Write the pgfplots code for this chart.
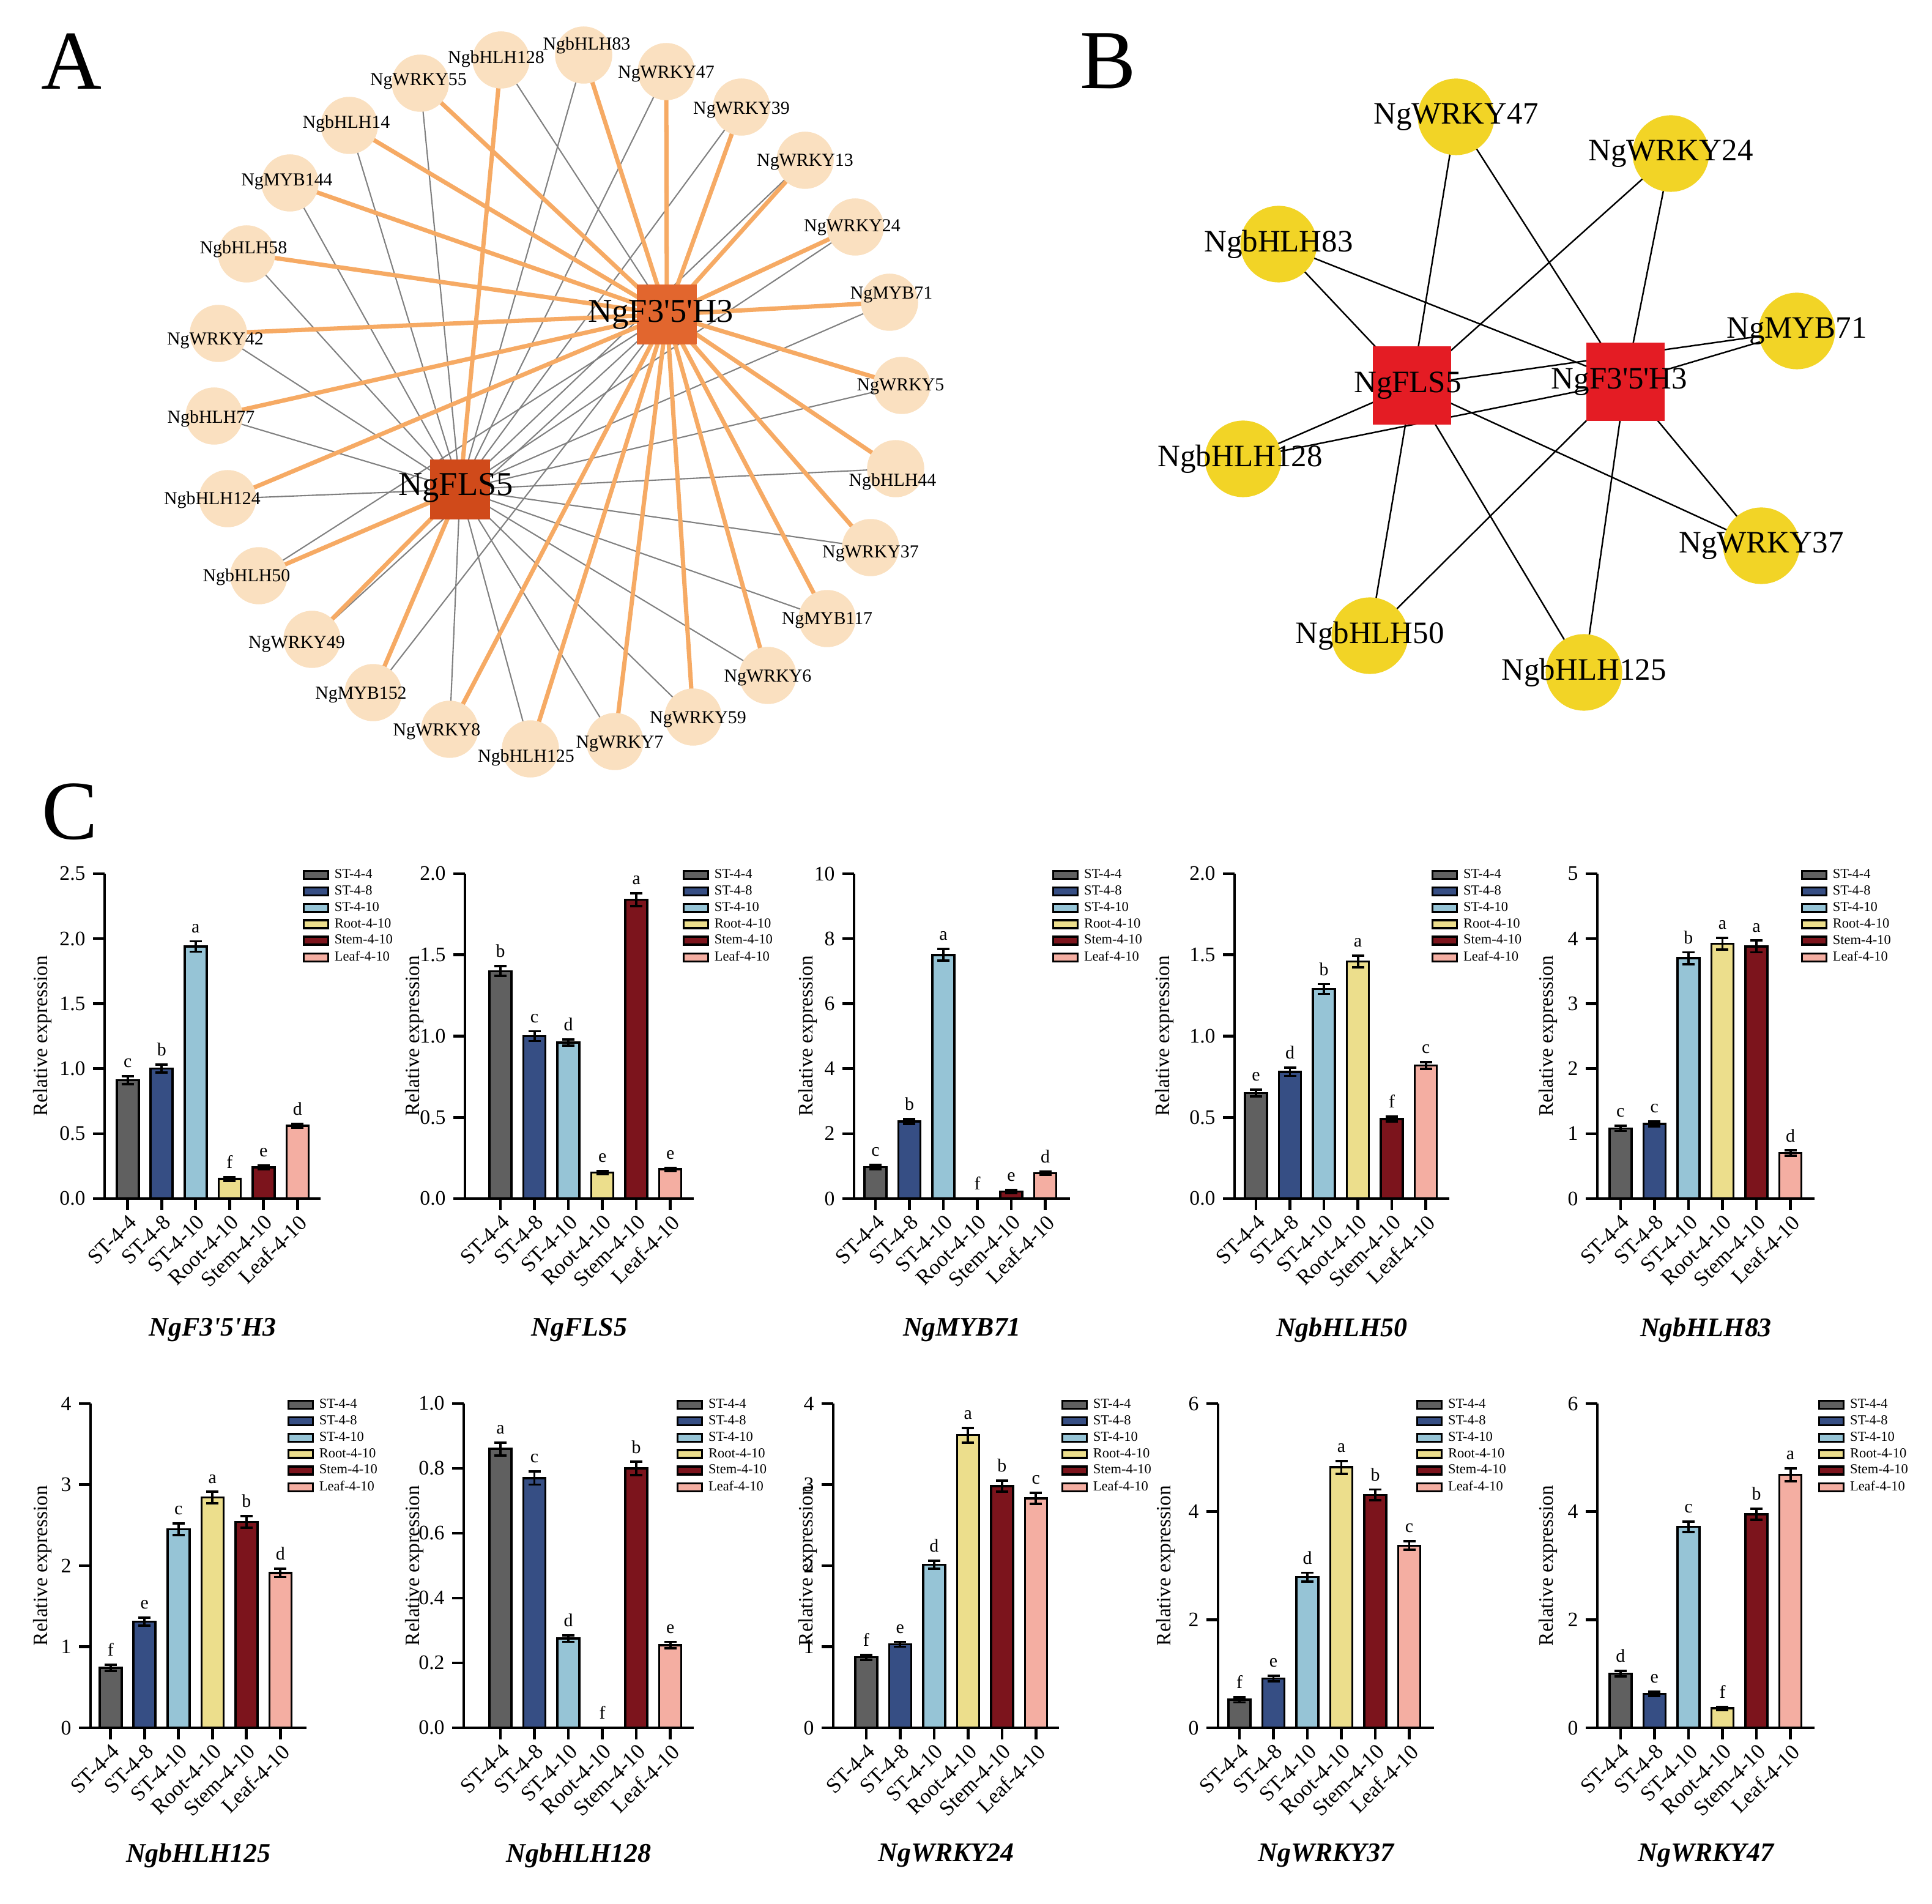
\documentclass[border=0pt]{standalone}
\usepackage{fontspec}
\setmainfont{Liberation Serif}
\usepackage{pgfplots}
\usepackage{pgfplotstable}
\pgfplotsset{compat=1.18}

\definecolor{cST4}{RGB}{96,96,96}
\definecolor{cST8}{RGB}{54,78,132}
\definecolor{cST10}{RGB}{150,196,214}
\definecolor{cRoot}{RGB}{236,222,140}
\definecolor{cStem}{RGB}{124,20,28}
\definecolor{cLeaf}{RGB}{244,174,162}
\definecolor{peach}{RGB}{250,224,192}
\definecolor{orline}{RGB}{246,170,100}
\definecolor{hubF}{RGB}{226,102,46}
\definecolor{hubL}{RGB}{208,74,26}
\definecolor{goldn}{RGB}{242,212,38}
\definecolor{redsq}{RGB}{228,28,36}

\newcommand{\Fh}{NgF3\textquotesingle{}5\textquotesingle{}H3}

% x = bar index, y = relative expression, e = error, l = letter
\pgfplotstableread{
x y e l
0 0.91 0.03 c
1 1.00 0.03 b
2 1.94 0.04 a
3 0.15 0.015 f
4 0.24 0.015 e
5 0.56 0.015 d
}\tA
\pgfplotstableread{
x y e l
0 1.40 0.03 b
1 1.00 0.03 c
2 0.96 0.02 d
3 0.16 0.01 e
4 1.84 0.04 a
5 0.18 0.01 e
}\tB
\pgfplotstableread{
x y e l
0 0.97 0.06 c
1 2.37 0.08 b
2 7.50 0.18 a
3 0 0 f
4 0.22 0.05 e
5 0.78 0.05 d
}\tC
\pgfplotstableread{
x y e l
0 0.65 0.02 e
1 0.78 0.025 d
2 1.29 0.03 b
3 1.46 0.035 a
4 0.49 0.015 f
5 0.82 0.02 c
}\tD
\pgfplotstableread{
x y e l
0 1.08 0.04 c
1 1.15 0.04 c
2 3.70 0.09 b
3 3.92 0.09 a
4 3.88 0.09 a
5 0.70 0.04 d
}\tE
\pgfplotstableread{
x y e l
0 0.74 0.04 f
1 1.31 0.05 e
2 2.45 0.07 c
3 2.84 0.07 a
4 2.54 0.07 b
5 1.91 0.05 d
}\tF
\pgfplotstableread{
x y e l
0 0.86 0.02 a
1 0.77 0.02 c
2 0.275 0.01 d
3 0 0 f
4 0.80 0.02 b
5 0.255 0.01 e
}\tG
\pgfplotstableread{
x y e l
0 0.87 0.03 f
1 1.03 0.03 e
2 2.01 0.05 d
3 3.61 0.09 a
4 2.98 0.07 b
5 2.83 0.07 c
}\tH
\pgfplotstableread{
x y e l
0 0.52 0.05 f
1 0.91 0.05 e
2 2.79 0.08 d
3 4.82 0.12 a
4 4.31 0.10 b
5 3.37 0.08 c
}\tI
\pgfplotstableread{
x y e l
0 1.00 0.05 d
1 0.63 0.04 e
2 3.72 0.10 c
3 0.36 0.03 f
4 3.95 0.10 b
5 4.68 0.12 a
}\tJ

\pgfplotsset{
  barax/.style={
    scale only axis, anchor=south west, height=5.31cm,
    ymin=0, clip=false,
    axis x line*=bottom, axis y line*=left,
    axis line style={line width=1.4pt, black},
    tick align=outside, major tick length=0.19cm,
    tick style={line width=1.3pt, black},
    xtick={0,1,2,3,4,5},
    xticklabels={ST-4-4,ST-4-8,ST-4-10,Root-4-10,Stem-4-10,Leaf-4-10},
    xticklabel style={rotate=45, anchor=north east, font=\fontsize{10}{12}\selectfont, inner sep=1pt},
    yticklabel style={font=\fontsize{9.6}{11}\selectfont},
    /pgf/number format/assume math mode=true,
    ylabel={Relative expression},
    every axis y label/.style={at={(axis description cs:0,0.5)}, rotate=90, anchor=center, font=\fontsize{9.5}{11}\selectfont},
    every axis x label/.style={at={(axis description cs:0.5,0)}, anchor=center, font=\fontsize{12.5}{15}\selectfont\bfseries\itshape},
    legend cell align=left,
    legend style={anchor=north west, yshift=0.1cm, draw=none, fill=none, inner sep=0pt,
      font=\fontsize{6.4}{7}\selectfont, row sep=0.9pt, nodes={inner sep=0.5pt},
      /tikz/every odd column/.style={column sep=0.07cm}},
    legend image code/.code={\draw[#1,/tikz/.cd,draw=black,line width=1pt] (0cm,-0.06cm) rectangle (0.4cm,0.07cm);},
    point meta=explicit symbolic,
    nodes near coords,
    visualization depends on={\thisrow{e} \as \errv},
    every node near coord/.append style={font=\fontsize{8.5}{10}\selectfont, anchor=south, inner sep=1pt,
      shift={(axis direction cs:0,\errv)}, yshift=2.5pt},
  },
  onedec/.style={yticklabel style={/pgf/number format/.cd, fixed, fixed zerofill, precision=1}},
  barplot/.style={ybar, bar width=0.36cm, bar shift=0pt, draw=black, line width=1pt, fill=#1,
    error bars/.cd, y dir=both, y explicit,
    error bar style={line width=1.1pt, black},
    error mark options={rotate=90, mark size=0.1cm, line width=1.1pt, black}},
}

\newcommand{\sixbars}[1]{%
  \addplot[restrict expr to domain={\coordindex}{0:0}, barplot=cST4] table[x=x,y=y,y error=e,meta=l]{#1};
  \addplot[restrict expr to domain={\coordindex}{1:1}, barplot=cST8] table[x=x,y=y,y error=e,meta=l]{#1};
  \addplot[restrict expr to domain={\coordindex}{2:2}, barplot=cST10] table[x=x,y=y,y error=e,meta=l]{#1};
  \addplot[restrict expr to domain={\coordindex}{3:3}, barplot=cRoot] table[x=x,y=y,y error=e,meta=l]{#1};
  \addplot[restrict expr to domain={\coordindex}{4:4}, barplot=cStem] table[x=x,y=y,y error=e,meta=l]{#1};
  \addplot[restrict expr to domain={\coordindex}{5:5}, barplot=cLeaf] table[x=x,y=y,y error=e,meta=l]{#1};
  \legend{ST-4-4,ST-4-8,ST-4-10,Root-4-10,Stem-4-10,Leaf-4-10}
}

\begin{document}
\begin{tikzpicture}
\path[use as bounding box] (0,0) rectangle (31.58,31.11);

% networks A and B, in pixel units of the figure
\begin{axis}[at={(0cm,0cm)}, anchor=south west, scale only axis,
  width=31.58cm, height=31.11cm, xmin=0, xmax=3158, ymin=0, ymax=3111,
  y dir=reverse, hide axis, clip=false]

% A: thin gray edges
\addplot[mark=none, color=gray, line width=0.6pt, line join=round] coordinates {
(752,800)(954,90)(752,800)(1089,117)(752,800)(1212,175)(752,800)(1316,262)(752,800)(1398,371)
(752,800)(1454,494)(752,800)(1474,630)(752,800)(1464,766)(752,800)(1423,895)(752,800)(1352,1011)
(752,800)(1255,1104)(752,800)(1133,1172)(752,800)(1005,1212)(752,800)(867,1224)(752,800)(735,1192)
(752,800)(372,815)(752,800)(350,680)(752,800)(357,545)(752,800)(403,415)(752,800)(474,299)
(752,800)(571,205)(752,800)(687,136)(752,800)};
\addplot[mark=none, color=gray, line width=0.6pt, line join=round] coordinates {
(1090,514)(819,98)(1090,514)(610,1132)(1090,514)(510,1045)(1090,514)(423,941)(1090,514)};
% A: thick orange edges
\addplot[mark=none, color=orline, line width=2pt, line join=round] coordinates {
(1090,514)(954,90)(1090,514)(1089,117)(1090,514)(1212,175)(1090,514)(1316,262)(1090,514)(1398,371)
(1090,514)(1454,494)(1090,514)(1474,630)(1090,514)(1464,766)(1090,514)(1423,895)(1090,514)(1352,1011)
(1090,514)(1255,1104)(1090,514)(1133,1172)(1090,514)(1005,1212)(1090,514)(867,1224)(1090,514)(735,1192)
(1090,514)(372,815)(1090,514)(350,680)(1090,514)(357,545)(1090,514)(403,415)(1090,514)(474,299)
(1090,514)(571,205)(1090,514)(687,136)(1090,514)};
\addplot[mark=none, color=orline, line width=2pt, line join=round] coordinates {
(752,800)(819,98)(752,800)(610,1132)(752,800)(510,1045)(752,800)(423,941)(752,800)};
% A: nodes
\addplot[only marks, color=peach, mark=*, mark size=13.1pt, mark options={fill=peach, draw=peach}] coordinates {
(819,98)(954,90)(1089,117)(1212,175)(1316,262)(1398,371)(1454,494)(1474,630)(1464,766)(1423,895)
(1352,1011)(1255,1104)(1133,1172)(1005,1212)(867,1224)(735,1192)(610,1132)(510,1045)(423,941)
(372,815)(350,680)(357,545)(403,415)(474,299)(571,205)(687,136)};
\addplot[only marks, color=hubF, mark=square*, mark size=13.7pt, mark options={fill=hubF, draw=hubF}] coordinates {(1090,514)};
\addplot[only marks, color=hubL, mark=square*, mark size=13.7pt, mark options={fill=hubL, draw=hubL}] coordinates {(752,800)};
% A: labels
\addplot[only marks, mark=none, nodes near coords, point meta=explicit symbolic,
  every node near coord/.append style={anchor=center, inner sep=0pt, black, font=\fontsize{8.5}{10}\selectfont}] coordinates {
(811,96)[NgbHLH128] (959,74)[NgbHLH83] (1089,121)[NgWRKY47] (1212,180)[NgWRKY39] (1316,265)[NgWRKY13]
(1393,372)[NgWRKY24] (1457,482)[NgMYB71] (1472,632)[NgWRKY5] (1459,787)[NgbHLH44] (1423,905)[NgWRKY37]
(1352,1014)[NgMYB117] (1255,1108)[NgWRKY6] (1141,1176)[NgWRKY59] (1013,1216)[NgWRKY7] (860,1238)[NgbHLH125]
(714,1196)[NgWRKY8] (590,1136)[NgMYB152] (485,1053)[NgWRKY49] (403,943)[NgbHLH50] (347,817)[NgbHLH124]
(345,684)[NgbHLH77] (352,557)[NgWRKY42] (398,407)[NgbHLH58] (469,297)[NgMYB144] (566,202)[NgbHLH14]
(684,133)[NgWRKY55]};
\addplot[only marks, mark=none, nodes near coords, point meta=explicit symbolic,
  every node near coord/.append style={anchor=center, inner sep=0pt, black, font=\fontsize{15.5}{17}\selectfont}] coordinates {
(1080,514)[\Fh] (745,797)[NgFLS5]};

% B: edges
\addplot[mark=none, color=black, line width=0.7pt, line join=round] coordinates {
(2308,630)(2380,191)(2308,630)(2731,251)(2308,630)(2090,399)(2308,630)(2937,541)(2308,630)(2032,750)
(2308,630)(2879,892)(2308,630)(2239,1039)(2308,630)(2589,1099)(2308,630)};
\addplot[mark=none, color=black, line width=0.7pt, line join=round] coordinates {
(2657,624)(2380,191)(2657,624)(2731,251)(2657,624)(2090,399)(2657,624)(2937,541)(2657,624)(2032,750)
(2657,624)(2879,892)(2657,624)(2239,1039)(2657,624)(2589,1099)(2657,624)};
% B: nodes
\addplot[only marks, color=goldn, mark=*, mark size=17.6pt, mark options={fill=goldn, draw=goldn}] coordinates {
(2380,191)(2731,251)(2090,399)(2937,541)(2032,750)(2879,892)(2239,1039)(2589,1099)};
\addplot[only marks, color=redsq, mark=square*, mark size=18pt, mark options={fill=redsq, draw=redsq}] coordinates {
(2308,630)(2657,624)};
\addplot[only marks, mark=none, nodes near coords, point meta=explicit symbolic,
  every node near coord/.append style={anchor=center, inner sep=0pt, black, font=\fontsize{14.5}{16}\selectfont}] coordinates {
(2380,191)[NgWRKY47] (2731,251)[NgWRKY24] (2090,399)[NgbHLH83] (2937,541)[NgMYB71] (2027,750)[NgbHLH128]
(2879,892)[NgWRKY37] (2239,1039)[NgbHLH50] (2589,1099)[NgbHLH125] (2301,630)[NgFLS5] (2647,624)[\Fh]};

\node[font=\fontsize{39}{40}\selectfont] at (axis cs:117,100) {A};
\node[font=\fontsize{39}{40}\selectfont] at (axis cs:1811,100) {B};
\node[font=\fontsize{39}{40}\selectfont] at (axis cs:114,1327) {C};
\end{axis}

% C: row 1
\begin{axis}[barax, onedec, at={(1.71cm,11.52cm)}, width=3.53cm, xmin=-0.68, xmax=5.68,
  ymax=2.5, ytick={0,0.5,1.0,1.5,2.0,2.5}, legend style={at={(0.915,1)}},
  ylabel style={yshift=1.02cm}, xlabel={\Fh}, xlabel style={yshift=-2.15cm}]
\sixbars{\tA}
\end{axis}
\begin{axis}[barax, onedec, at={(7.60cm,11.52cm)}, width=3.74cm, xmin=-1.045, xmax=5.69,
  ymax=2.0, ytick={0,0.5,1.0,1.5,2.0}, legend style={at={(0.949,1)}},
  ylabel style={yshift=0.83cm}, xlabel={NgFLS5}, xlabel style={yshift=-2.15cm}]
\sixbars{\tB}
\end{axis}
\begin{axis}[barax, at={(13.96cm,11.52cm)}, width=3.53cm, xmin=-0.63, xmax=5.73,
  ymax=10, ytick={0,2,4,6,8,10}, legend style={at={(0.915,1)}},
  ylabel style={yshift=0.76cm}, xlabel={NgMYB71}, xlabel style={yshift=-2.15cm}]
\sixbars{\tC}
\end{axis}
\begin{axis}[barax, onedec, at={(20.18cm,11.52cm)}, width=3.51cm, xmin=-0.63, xmax=5.69,
  ymax=2.0, ytick={0,0.5,1.0,1.5,2.0}, legend style={at={(0.915,1)}},
  ylabel style={yshift=1.15cm}, xlabel={NgbHLH50}, xlabel style={yshift=-2.15cm}]
\sixbars{\tD}
\end{axis}
\begin{axis}[barax, at={(26.11cm,11.52cm)}, width=3.55cm, xmin=-0.68, xmax=5.71,
  ymax=5, ytick={0,1,2,3,4,5}, legend style={at={(0.935,1)}},
  ylabel style={yshift=0.81cm}, xlabel={NgbHLH83}, xlabel style={yshift=-2.15cm}]
\sixbars{\tE}
\end{axis}

% C: row 2
\begin{axis}[barax, height=5.30cm, at={(1.48cm,2.87cm)}, width=3.53cm, xmin=-0.59, xmax=5.77,
  ymax=4, ytick={0,1,2,3,4}, legend style={at={(0.909,1)}},
  ylabel style={yshift=0.79cm}, xlabel={NgbHLH125}, xlabel style={yshift=-2.09cm}]
\sixbars{\tF}
\end{axis}
\begin{axis}[barax, onedec, height=5.30cm, at={(7.58cm,2.87cm)}, width=3.76cm, xmin=-1.08, xmax=5.69,
  ymax=1.0, ytick={0,0.2,0.4,0.6,0.8,1.0}, legend style={at={(0.923,1)}},
  ylabel style={yshift=0.81cm}, xlabel={NgbHLH128}, xlabel style={yshift=-2.09cm}]
\sixbars{\tG}
\end{axis}
\begin{axis}[barax, height=5.30cm, at={(13.62cm,2.87cm)}, width=3.69cm, xmin=-0.97, xmax=5.68,
  ymax=4, ytick={0,1,2,3,4}, legend style={at={(1.008,1)}},
  ylabel style={yshift=0.42cm}, xlabel={NgWRKY24}, xlabel style={yshift=-2.09cm}]
\sixbars{\tH}
\end{axis}
\begin{axis}[barax, height=5.30cm, at={(19.91cm,2.87cm)}, width=3.53cm, xmin=-0.63, xmax=5.73,
  ymax=6, ytick={0,2,4,6}, legend style={at={(0.915,1)}},
  ylabel style={yshift=0.86cm}, xlabel={NgWRKY37}, xlabel style={yshift=-2.09cm}]
\sixbars{\tI}
\end{axis}
\begin{axis}[barax, height=5.30cm, at={(26.11cm,2.87cm)}, width=3.55cm, xmin=-0.68, xmax=5.71,
  ymax=6, ytick={0,2,4,6}, legend style={at={(1.014,1)}},
  ylabel style={yshift=0.81cm}, xlabel={NgWRKY47}, xlabel style={yshift=-2.09cm}]
\sixbars{\tJ}
\end{axis}
\end{tikzpicture}
\end{document}
